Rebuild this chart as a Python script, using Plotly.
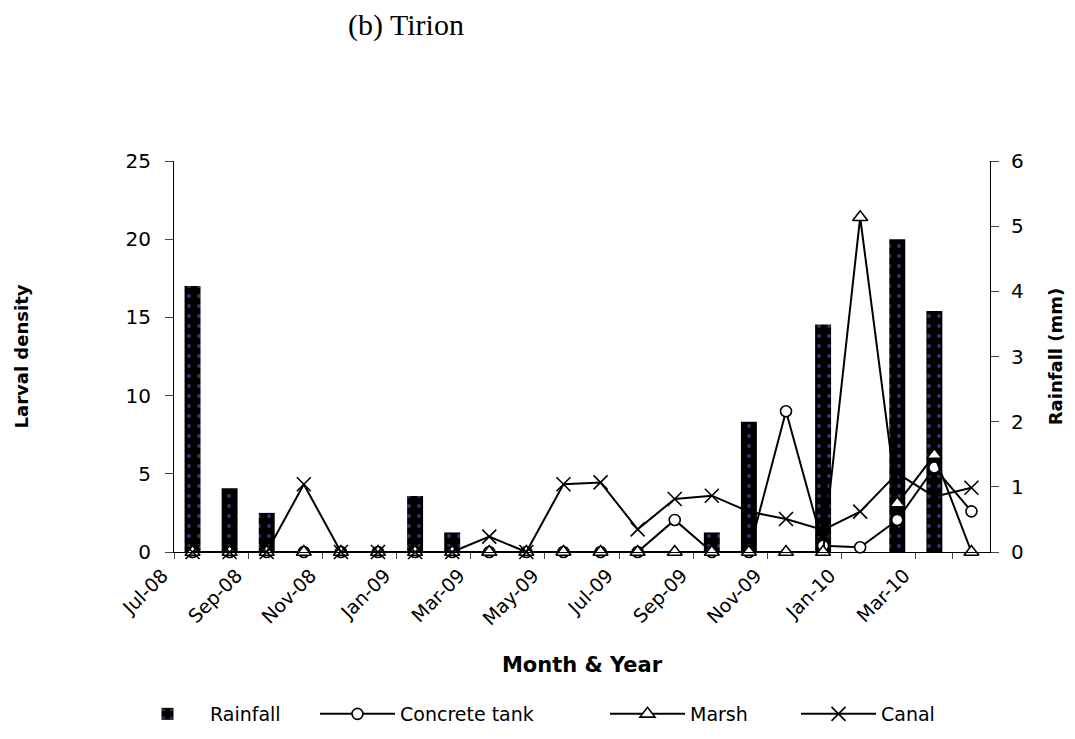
import plotly.graph_objects as go

months = ["Jul-08", "Aug-08", "Sep-08", "Oct-08", "Nov-08", "Dec-08",
          "Jan-09", "Feb-09", "Mar-09", "Apr-09", "May-09", "Jun-09",
          "Jul-09", "Aug-09", "Sep-09", "Oct-09", "Nov-09", "Dec-09",
          "Jan-10", "Feb-10", "Mar-10", "Apr-10"]
tick_months = months[::2]

rainfall_mm = [4.08, 0.98, 0.60, 0, 0, 0, 0.86, 0.30, 0, 0, 0, 0,
               0, 0, 0.30, 2.0, 0, 3.49, 0, 4.80, 3.70, 0]
concrete_tank = [0, 0, 0, 0, 0, 0, 0, 0, 0, 0, 0, 0,
                 0, 2.05, 0, 0, 9.0, 0.4, 0.3, 2.05, 5.4, 2.6]
marsh = [0, 0, 0, 0, 0, 0, 0, 0, 0, 0, 0, 0,
         0, 0, 0, 0, 0, 0, 21.4, 3.1, 6.2, 0]
canal = [0, 0, 0, 4.33, 0, 0, 0, 0, 0.98, 0, 4.33, 4.45,
         1.45, 3.39, 3.6, 2.58, 2.11, 1.41, 2.58, 5.03, 3.54, 4.11]

SANS = "DejaVu Sans"

# page offset of the figure (default body margin of the html page)
OFF = 8
W, H = 1075, 739
PL, PR, PT, PB = 174, 990, 161, 552  # plot area in page pixels


def px_to_paper_x(px):
    return (px - PL) / (PR - PL)


def px_to_paper_y(py):
    return (PB - py) / (PB - PT)


fig = go.Figure()

fig.add_trace(go.Bar(
    x=months, y=rainfall_mm, name="Rainfall", yaxis="y", width=0.43,
    legend="legend", showlegend=True,
    marker=dict(color="black", line=dict(width=0),
                pattern=dict(shape=".", bgcolor="black", fgcolor="#6a6ae0",
                             size=10, solidity=0.12)),
))

line_style = dict(color="black", width=2)
fig.add_trace(go.Scatter(
    x=months, y=concrete_tank, name="Concrete tank", yaxis="y2",
    mode="lines+markers", line=line_style, cliponaxis=False,
    legend="legend2", showlegend=True,
    marker=dict(symbol="circle", size=11, color="white",
                line=dict(color="black", width=1.6)),
))
fig.add_trace(go.Scatter(
    x=months, y=marsh, name="Marsh", yaxis="y2",
    mode="lines+markers", line=line_style, cliponaxis=False,
    legend="legend3", showlegend=True,
    marker=dict(symbol="triangle-up", size=13, color="white",
                line=dict(color="black", width=1.6)),
))
fig.add_trace(go.Scatter(
    x=months, y=canal, name="Canal", yaxis="y2",
    mode="lines+markers", line=line_style, cliponaxis=False,
    legend="legend4", showlegend=True,
    marker=dict(symbol="x-thin", size=14, color="black",
                line=dict(color="black", width=1.6)),
))

legend_y = px_to_paper_y(714)
legend_common = dict(orientation="h", xanchor="left", yanchor="middle",
                     y=legend_y, font=dict(family=SANS, size=19),
                     itemwidth=75, bgcolor="rgba(0,0,0,0)")

fig.update_layout(
    width=W, height=H, autosize=False, showlegend=True,
    margin=dict(l=PL - OFF, r=W - (PR - OFF), t=PT - OFF, b=H - (PB - OFF)),
    paper_bgcolor="white", plot_bgcolor="white",
    font=dict(family=SANS, size=19, color="black"),
    title=dict(text="(b) Tirion", x=(406 - OFF) / W, xanchor="center",
               y=1 - (24 - OFF) / H, yanchor="middle",
               font=dict(family="Liberation Serif", size=30, color="black")),
    xaxis=dict(
        type="category", categoryorder="array", categoryarray=months,
        range=[-0.5, len(months) - 0.5],
        tickmode="array", tickvals=tick_months, ticktext=tick_months,
        tickson="boundaries", tickangle=-45, ticks="outside", ticklen=6,
        ticklabelshift=-30, ticklabelstandoff=4,
        showline=True, linecolor="black", linewidth=1, showgrid=False,
        tickfont=dict(family=SANS, size=19),
        title=dict(text="<b>Month & Year</b>", standoff=28,
                   font=dict(family=SANS, size=21)),
    ),
    yaxis=dict(
        side="right", range=[0, 6], dtick=1, tick0=0,
        ticks="outside", ticklen=8, showline=True, linecolor="black",
        linewidth=1, showgrid=False, zeroline=False,
        ticklabelstandoff=8,
        tickfont=dict(family=SANS, size=20),
        title=dict(text="<b>Rainfall (mm)</b>", standoff=26,
                   font=dict(family=SANS, size=18)),
    ),
    yaxis2=dict(
        overlaying="y", side="left", range=[0, 25], dtick=5, tick0=0,
        ticks="outside", ticklen=8, showline=True, linecolor="black",
        linewidth=1, showgrid=False, zeroline=False,
        ticklabelstandoff=10,
        tickfont=dict(family=SANS, size=20),
        title=dict(text="<b>Larval density</b>", standoff=92,
                   font=dict(family=SANS, size=18)),
    ),
    legend=dict(x=px_to_paper_x(125), **legend_common),
    legend2=dict(x=px_to_paper_x(315), **legend_common),
    legend3=dict(x=px_to_paper_x(605), **legend_common),
    legend4=dict(x=px_to_paper_x(796), **legend_common),
)

fig.write_html("out.html")
